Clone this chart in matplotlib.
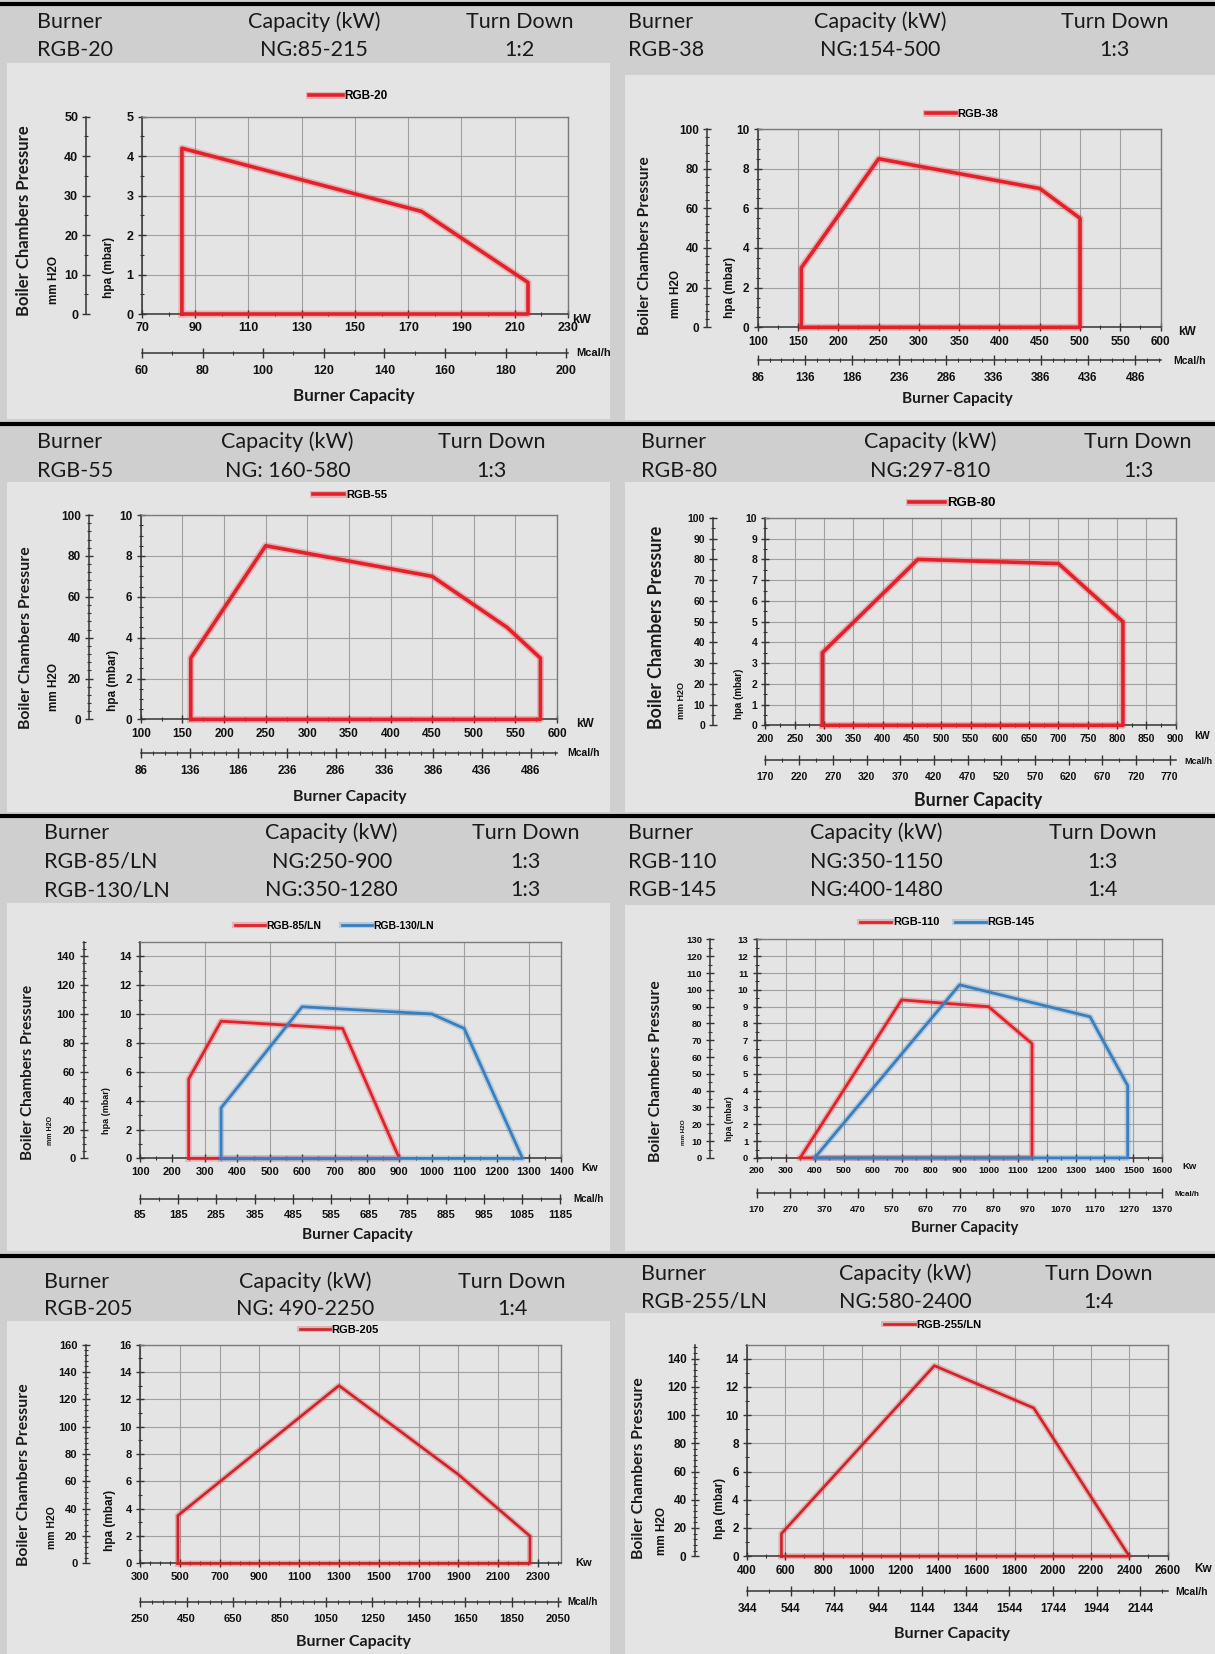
import matplotlib
matplotlib.use('Agg')
import matplotlib.pyplot as plt
from matplotlib.lines import Line2D
from matplotlib.patches import Rectangle
from matplotlib.ticker import FixedLocator, MultipleLocator
import matplotlib.patheffects as pe

# ---------------- data (kW, hPa) ----------------
rgb20_kw = [85, 85, 175, 215, 215, 85]
rgb20_hpa = [0, 4.2, 2.6, 0.8, 0, 0]
rgb38_kw = [154, 154, 250, 450, 500, 500, 154]
rgb38_hpa = [0, 3.0, 8.5, 7.0, 5.5, 0, 0]
rgb55_kw = [160, 160, 250, 450, 540, 580, 580, 160]
rgb55_hpa = [0, 3.0, 8.5, 7.0, 4.5, 3.0, 0, 0]
rgb80_kw = [297, 297, 460, 700, 810, 810, 297]
rgb80_hpa = [0, 3.5, 8.0, 7.8, 5.0, 0, 0]
rgb85_kw = [250, 250, 350, 725, 900, 250]
rgb85_hpa = [0, 5.5, 9.5, 9.0, 0, 0]
rgb130_kw = [350, 350, 600, 1000, 1100, 1280, 350]
rgb130_hpa = [0, 3.5, 10.5, 10.0, 9.0, 0, 0]
rgb110_kw = [350, 700, 1000, 1150, 1150, 350]
rgb110_hpa = [0, 9.4, 9.0, 6.8, 0, 0]
rgb145_kw = [400, 900, 1350, 1480, 1480, 400]
rgb145_hpa = [0, 10.3, 8.4, 4.3, 0, 0]
rgb205_kw = [490, 490, 1300, 1900, 2260, 2260, 490]
rgb205_hpa = [0, 3.5, 13.0, 6.5, 2.0, 0, 0]
rgb255_kw = [580, 580, 1380, 1900, 2400, 580]
rgb255_hpa = [0, 1.6, 13.5, 10.5, 0, 0]

# ---------------- tick labels ----------------
c1_kw_ticks = [70, 90, 110, 130, 150, 170, 190, 210, 230]
c1_mcal_ticks = [60, 80, 100, 120, 140, 160, 180, 200]
c1_hpa_ticks = [0, 1, 2, 3, 4, 5]
c1_mm_ticks = [0, 10, 20, 30, 40, 50]

c2_kw_ticks = [100, 150, 200, 250, 300, 350, 400, 450, 500, 550, 600]
c2_mcal_ticks = [86, 136, 186, 236, 286, 336, 386, 436, 486]
c2_hpa_ticks = [0, 2, 4, 6, 8, 10]
c2_mm_ticks = [0, 20, 40, 60, 80, 100]

c3_kw_ticks = [100, 150, 200, 250, 300, 350, 400, 450, 500, 550, 600]
c3_mcal_ticks = [86, 136, 186, 236, 286, 336, 386, 436, 486]
c3_hpa_ticks = [0, 2, 4, 6, 8, 10]
c3_mm_ticks = [0, 20, 40, 60, 80, 100]

c4_kw_ticks = [200, 250, 300, 350, 400, 450, 500, 550, 600, 650, 700, 750, 800, 850, 900]
c4_mcal_ticks = [170, 220, 270, 320, 370, 420, 470, 520, 570, 620, 670, 720, 770]
c4_hpa_ticks = [0, 1, 2, 3, 4, 5, 6, 7, 8, 9, 10]
c4_mm_ticks = [0, 10, 20, 30, 40, 50, 60, 70, 80, 90, 100]

c5_kw_ticks = [100, 200, 300, 400, 500, 600, 700, 800, 900, 1000, 1100, 1200, 1300, 1400]
c5_mcal_ticks = [85, 185, 285, 385, 485, 585, 685, 785, 885, 985, 1085, 1185]
c5_hpa_ticks = [0, 2, 4, 6, 8, 10, 12, 14]
c5_mm_ticks = [0, 20, 40, 60, 80, 100, 120, 140]

c6_kw_ticks = [200, 300, 400, 500, 600, 700, 800, 900, 1000, 1100, 1200, 1300, 1400, 1500, 1600]
c6_mcal_ticks = [170, 270, 370, 470, 570, 670, 770, 870, 970, 1070, 1170, 1270, 1370]
c6_hpa_ticks = [0, 1, 2, 3, 4, 5, 6, 7, 8, 9, 10, 11, 12, 13]
c6_mm_ticks = [0, 10, 20, 30, 40, 50, 60, 70, 80, 90, 100, 110, 120, 130]

c7_kw_ticks = [300, 500, 700, 900, 1100, 1300, 1500, 1700, 1900, 2100, 2300]
c7_mcal_ticks = [250, 450, 650, 850, 1050, 1250, 1450, 1650, 1850, 2050]
c7_hpa_ticks = [0, 2, 4, 6, 8, 10, 12, 14, 16]
c7_mm_ticks = [0, 20, 40, 60, 80, 100, 120, 140, 160]

c8_kw_ticks = [400, 600, 800, 1000, 1200, 1400, 1600, 1800, 2000, 2200, 2400, 2600]
c8_mcal_ticks = [344, 544, 744, 944, 1144, 1344, 1544, 1744, 1944, 2144]
c8_hpa_ticks = [0, 2, 4, 6, 8, 10, 12, 14]
c8_mm_ticks = [0, 20, 40, 60, 80, 100, 120, 140]

# ---------------- header texts ----------------
hdr_names = [['RGB-20'], ['RGB-38'], ['RGB-55'], ['RGB-80'],
             ['RGB-85/LN', 'RGB-130/LN'], ['RGB-110', 'RGB-145'],
             ['RGB-205'], ['RGB-255/LN']]
hdr_caps = [['NG:85-215'], ['NG:154-500'], ['NG: 160-580'], ['NG:297-810'],
            ['NG:250-900', 'NG:350-1280'], ['NG:350-1150', 'NG:400-1480'],
            ['NG: 490-2250'], ['NG:580-2400']]
hdr_td = [['1:2'], ['1:3'], ['1:3'], ['1:3'], ['1:3', '1:3'], ['1:3', '1:4'],
          ['1:4'], ['1:4']]

# ---------------- styling ----------------
W, H = 1152.0, 1568.0
HEADER_BG = '#cfcfcf'
PANEL_BG = '#e4e4e4'
RED = '#e3212a'
DRED = '#d02228'
BLUE = '#3a7fbd'
GRID = '#a0a0a0'
DARK = '#333333'
TICK_FONT = ['Liberation Sans', 'DejaVu Sans']
LABEL_FONT = ['Lato', 'DejaVu Sans']
HEAD_FONT = ['Lato', 'DejaVu Sans']

plt.rcParams['font.family'] = TICK_FONT
plt.rcParams['font.weight'] = 'bold'

fig = plt.figure(figsize=(12.15, 16.54), dpi=100)
fig.patch.set_facecolor(HEADER_BG)


def fx(x):
    return x / W


def fy(y):
    return 1 - y / H


# panels
panels = [(7, 60, 578, 397), (593, 71, 1152, 398),
          (7, 457, 578, 770), (593, 457, 1152, 770),
          (7, 856, 578, 1186), (593, 858, 1152, 1186),
          (7, 1252, 578, 1568), (593, 1245, 1152, 1568)]
for (a, b, c, d) in panels:
    fig.add_artist(Rectangle((fx(a), fy(d)), (c - a) / W, (d - b) / H,
                             transform=fig.transFigure, facecolor=PANEL_BG,
                             edgecolor='none', zorder=0))

for y in [3.5, 402, 774, 1191]:
    fig.add_artist(Line2D([0, 1], [fy(y), fy(y)], color='black', lw=3.0,
                          transform=fig.transFigure, zorder=1))

# headers
hdr_layout = [
    (35, 297.7, 492.4, [20.5, 47.4]),
    (595, 834.8, 1056.7, [20.5, 47.4]),
    (35, 272.8, 466.2, [418.7, 446.3]),
    (608, 882, 1079, [418.7, 446.3]),
    (42, 314.5, 498.3, [789.5, 817, 843.8]),
    (595, 831.1, 1045.1, [789.5, 817, 843.8]),
    (42, 289.4, 485.6, [1215.2, 1241.4]),
    (608, 858.3, 1041.7, [1207.3, 1234]),
]
HFS = 15.5
for i, (xa, xb, xc, ys) in enumerate(hdr_layout):
    kw = dict(va='center', fontsize=HFS, family=HEAD_FONT, weight='normal',
              color='#1a1a1a')
    fig.text(fx(xa), fy(ys[0]), 'Burner', ha='left', **kw)
    fig.text(fx(xb), fy(ys[0]), 'Capacity (kW)', ha='center', **kw)
    fig.text(fx(xc), fy(ys[0]), 'Turn Down', ha='center', **kw)
    for j in range(len(hdr_names[i])):
        fig.text(fx(xa), fy(ys[j + 1]), hdr_names[i][j], ha='left', **kw)
        fig.text(fx(xb), fy(ys[j + 1]), hdr_caps[i][j], ha='center', **kw)
        fig.text(fx(xc), fy(ys[j + 1]), hdr_td[i][j], ha='center', **kw)


def draw_chart(L, kw_lim, kw_ticks, kw_minor, kw_grid,
               mcal_lim, mcal_ticks, mcal_minor,
               hpa_lim, hpa_ticks, hpa_minor,
               mm_lim, mm_ticks, mm_minor, series, kw_unit):
    x0, x1, yt, yb = L['box']
    fs = L['fs']
    lw = L['lw']
    ax = fig.add_axes([fx(x0), fy(yb), (x1 - x0) / W, (yb - yt) / H])
    ax.set_facecolor('none')
    ax.set_xlim(*kw_lim)
    ax.set_ylim(*hpa_lim)
    ax.xaxis.set_major_locator(FixedLocator(kw_ticks))
    ax.xaxis.set_minor_locator(MultipleLocator(kw_minor, offset=kw_lim[0] % kw_minor))
    ax.yaxis.set_major_locator(FixedLocator(hpa_ticks))
    ax.yaxis.set_minor_locator(MultipleLocator(hpa_minor))
    for g in kw_grid:
        ax.axvline(g, color=GRID, lw=0.8, zorder=0)
    for g in hpa_ticks:
        ax.axhline(g, color=GRID, lw=0.8, zorder=0)
    for s in ['top', 'right']:
        ax.spines[s].set_color('#7a7a7a')
        ax.spines[s].set_linewidth(1.0)
    for s in ['left', 'bottom']:
        ax.spines[s].set_color(DARK)
        ax.spines[s].set_linewidth(1.1)
    ax.tick_params(which='major', direction='inout', length=6, width=1.0,
                   color=DARK, labelsize=fs, pad=3, labelcolor='#111111')
    ax.tick_params(which='minor', direction='inout', length=3, width=0.8, color=DARK)
    for name, xs, ys, color in series:
        ax.plot(xs, ys, color=color, lw=lw, clip_on=False, zorder=3, label=name,
                path_effects=[pe.Stroke(linewidth=lw + 2.4, foreground=color, alpha=0.25),
                              pe.Normal()])
    legfs = L['legfs']
    hl = L['hl_px'] * (1215 / 1152) * 0.72 / legfs
    cs = L.get('cs_px', 20) * (1215 / 1152) * 0.72 / legfs
    ax.legend(loc='center left', bbox_to_anchor=(fx(L['leg'][0]), fy(L['leg'][1])),
              bbox_transform=fig.transFigure, frameon=False, ncol=len(series),
              fontsize=legfs, handlelength=hl, handletextpad=0.15,
              columnspacing=cs, borderpad=0, borderaxespad=0)

    # mm H2O axis
    axm = fig.add_axes([fx(L['mm_x']), fy(yb), 0.0001, (yb - yt) / H])
    axm.set_facecolor('none')
    axm.set_ylim(*mm_lim)
    axm.set_xticks([])
    for s in ['top', 'right', 'bottom']:
        axm.spines[s].set_visible(False)
    axm.spines['left'].set_color(DARK)
    axm.spines['left'].set_linewidth(1.1)
    axm.yaxis.set_major_locator(FixedLocator(mm_ticks))
    axm.yaxis.set_minor_locator(MultipleLocator(mm_minor))
    axm.tick_params(axis='y', which='major', direction='inout', length=6, width=1.0,
                    color=DARK, labelsize=fs, pad=3, labelcolor='#111111')
    axm.tick_params(axis='y', which='minor', direction='inout', length=3, width=0.8,
                    color=DARK)

    # Mcal/h axis
    axc = fig.add_axes([fx(x0), fy(L['mcal_y']), (x1 - x0) / W, 0.0001])
    axc.set_facecolor('none')
    axc.set_xlim(*mcal_lim)
    axc.set_yticks([])
    for s in ['top', 'left', 'right']:
        axc.spines[s].set_visible(False)
    axc.spines['bottom'].set_color(DARK)
    axc.spines['bottom'].set_linewidth(1.1)
    axc.xaxis.set_major_locator(FixedLocator(mcal_ticks))
    axc.xaxis.set_minor_locator(MultipleLocator(mcal_minor, offset=mcal_lim[0] % mcal_minor))
    axc.tick_params(axis='x', which='major', direction='inout', length=7, width=1.0,
                    color=DARK, labelsize=fs, pad=5, labelcolor='#111111')
    axc.tick_params(axis='x', which='minor', direction='inout', length=3, width=0.8,
                    color=DARK)

    # texts
    fig.text(fx(L['kwu'][0]), fy(L['kwu'][1]), kw_unit, ha='left', va='center',
             fontsize=fs, color='#111111')
    fig.text(fx(L['mcu'][0]), fy(L['mcu'][1]), 'Mcal/h', ha='left', va='center',
             fontsize=fs - 1.0, color='#111111')
    fig.text(fx(L['cap'][0]), fy(L['cap'][1]), 'Burner Capacity', ha='center',
             va='center', fontsize=L['capfs'], family=LABEL_FONT, weight='bold',
             color='#1a1a1a')
    fig.text(fx(L['bcp'][0]), fy(L['bcp'][1]), 'Boiler Chambers Pressure', rotation=90,
             ha='center', va='center', fontsize=L['bcpfs'], family=LABEL_FONT,
             weight='bold', color='#1a1a1a')
    fig.text(fx(L['mmh'][0]), fy(L['mmh'][1]), 'mm H2O', rotation=90, ha='center',
             va='center', fontsize=L['mmfs'], color='#111111')
    fig.text(fx(L['hpa'][0]), fy(L['hpa'][1]), 'hpa (mbar)', rotation=90, ha='center',
             va='center', fontsize=L['hpafs'], color='#111111')


# ---------------- charts ----------------
L1 = dict(box=(134.6, 538.5, 110.6, 297.7), fs=9, lw=2.6, mm_x=82, mcal_y=334.4,
          leg=(293, 91), hl_px=32, legfs=8.5, kwu=(542, 303), mcu=(546, 334.4),
          cap=(335, 375.5), capfs=12.2, bcp=(23, 209), bcpfs=12,
          mmh=(51.6, 265), mmfs=8.5, hpa=(103, 254), hpafs=8.5)
draw_chart(L1, (70, 230), c1_kw_ticks, 10, c1_kw_ticks,
           (60, 200.6), c1_mcal_ticks, 10,
           (0, 5), c1_hpa_ticks, 0.5, (0, 50), c1_mm_ticks, 5,
           [('RGB-20', rgb20_kw, rgb20_hpa, RED)], 'kW')

L2 = dict(box=(718.5, 1100.4, 122.3, 310.3), fs=8.5, lw=2.6, mm_x=670.5, mcal_y=341.3,
          leg=(878, 108.4), hl_px=28, legfs=8, kwu=(1117, 314.5), mcu=(1112, 342),
          cap=(907.6, 378.3), capfs=11.1, bcp=(611.3, 233), bcpfs=11.2,
          mmh=(640.5, 278.8), mmfs=8.5, hpa=(691.8, 272.6), hpafs=8.5)
draw_chart(L2, (100, 600), c2_kw_ticks, 25, c2_kw_ticks,
           (86, 513), c2_mcal_ticks, 12.5,
           (0, 10), c2_hpa_ticks, 0.5, (0, 100), c2_mm_ticks, 4,
           [('RGB-38', rgb38_kw, rgb38_hpa, RED)], 'kW')

L3 = dict(box=(133.5, 528.2, 488.3, 682), fs=8.5, lw=2.6, mm_x=84.8, mcal_y=714.2,
          leg=(297, 469.3), hl_px=29.5, legfs=8, kwu=(546, 686.4), mcu=(538, 714.2),
          cap=(332, 755.4), capfs=11.3, bcp=(25, 604.4), bcpfs=11.4,
          mmh=(51.6, 651), mmfs=8.5, hpa=(107, 644.7), hpafs=8.5)
draw_chart(L3, (100, 600), c3_kw_ticks, 25, c3_kw_ticks,
           (86, 513), c3_mcal_ticks, 12.5,
           (0, 10), c3_hpa_ticks, 0.5, (0, 100), c3_mm_ticks, 4,
           [('RGB-55', rgb55_kw, rgb55_hpa, RED)], 'kW')

L4 = dict(box=(725.8, 1114.7, 491, 687.6), fs=7.5, lw=2.6, mm_x=676.4, mcal_y=720.6,
          leg=(862, 477.2), hl_px=34, legfs=9.5, kwu=(1132, 697.4), mcu=(1123, 722),
          cap=(927.7, 758.6), capfs=12.8, bcp=(622.4, 594.7), bcpfs=12.7,
          mmh=(646, 664.3), mmfs=6.5, hpa=(701, 657.5), hpafs=7)
draw_chart(L4, (200, 900), c4_kw_ticks, 25, c4_kw_ticks,
           (170, 779), c4_mcal_ticks, 25,
           (0, 10), c4_hpa_ticks, 0.5, (0, 100), c4_mm_ticks, 5,
           [('RGB-80', rgb80_kw, rgb80_hpa, RED)], 'kW')

c5_grid = [300, 500, 700, 900, 1100, 1300]
L5 = dict(box=(132.8, 532.3, 892.8, 1098.2), fs=8, lw=2.0, mm_x=79.3, mcal_y=1136.2,
          leg=(222.4, 877.6), hl_px=28.4, cs_px=20, legfs=7.5, kwu=(551, 1107.7),
          mcu=(544, 1136.2), cap=(338.6, 1171), capfs=11.1, bcp=(26.6, 1016.7),
          bcpfs=11, mmh=(48, 1071.4), mmfs=5, hpa=(101.4, 1053), hpafs=6.5)
draw_chart(L5, (100, 1400), c5_kw_ticks, 50, c5_grid,
           (85, 1188), c5_mcal_ticks, 50,
           (0, 15), c5_hpa_ticks, 1, (0, 150), c5_mm_ticks, 5,
           [('RGB-85/LN', rgb85_kw, rgb85_hpa, RED),
            ('RGB-130/LN', rgb130_kw, rgb130_hpa, BLUE)], 'Kw')

L6 = dict(box=(717.4, 1102.2, 890.6, 1097.7), fs=6.8, lw=2.0, mm_x=673.5, mcal_y=1130.8,
          leg=(815.4, 874.5), hl_px=29.6, cs_px=14.6, legfs=8, kwu=(1121, 1105.6),
          mcu=(1114, 1132), cap=(914.2, 1164.6), capfs=10.7, bcp=(622.2, 1015),
          bcpfs=11.3, mmh=(647.9, 1073), mmfs=4.5, hpa=(691.7, 1060), hpafs=6.2)
draw_chart(L6, (200, 1600), c6_kw_ticks, 50, c6_kw_ticks,
           (170, 1370), c6_mcal_ticks, 50,
           (0, 13), c6_hpa_ticks, 0.5, (0, 130), c6_mm_ticks, 5,
           [('RGB-110', rgb110_kw, rgb110_hpa, RED),
            ('RGB-145', rgb145_kw, rgb145_hpa, BLUE)], 'Kw')

L7 = dict(box=(132.8, 532.3, 1274.6, 1482.2), fs=8, lw=1.9, mm_x=81.2, mcal_y=1518.6,
          leg=(284, 1261), hl_px=28.8, legfs=8, kwu=(545, 1482), mcu=(538, 1518.6),
          cap=(335, 1556.6), capfs=11.5, bcp=(22.9, 1397.6), bcpfs=11.4,
          mmh=(49, 1448), mmfs=7.5, hpa=(104.4, 1441), hpafs=8.5)
draw_chart(L7, (300, 2418), c7_kw_ticks, 50, c7_kw_ticks,
           (250, 2063), c7_mcal_ticks, 50,
           (0, 16), c7_hpa_ticks, 1, (0, 160), c7_mm_ticks, 4,
           [('RGB-205', rgb205_kw, rgb205_hpa, DRED)], 'Kw')

L8 = dict(box=(708.3, 1107, 1274.6, 1475.3), fs=8.5, lw=1.9, mm_x=658.9, mcal_y=1508.2,
          leg=(838.6, 1256.3), hl_px=29, legfs=8, kwu=(1132, 1487), mcu=(1114, 1509),
          cap=(902.2, 1548.6), capfs=11.6, bcp=(605.8, 1392.2), bcpfs=11.3,
          mmh=(627.8, 1451), mmfs=8.5, hpa=(682.7, 1430), hpafs=8.5)
draw_chart(L8, (400, 2600), c8_kw_ticks, 100, c8_kw_ticks,
           (344, 2268), c8_mcal_ticks, 100,
           (0, 15), c8_hpa_ticks, 1, (0, 150), c8_mm_ticks, 4,
           [('RGB-255/LN', rgb255_kw, rgb255_hpa, DRED)], 'Kw')

fig.savefig('out.png', dpi=100, facecolor=fig.get_facecolor())
